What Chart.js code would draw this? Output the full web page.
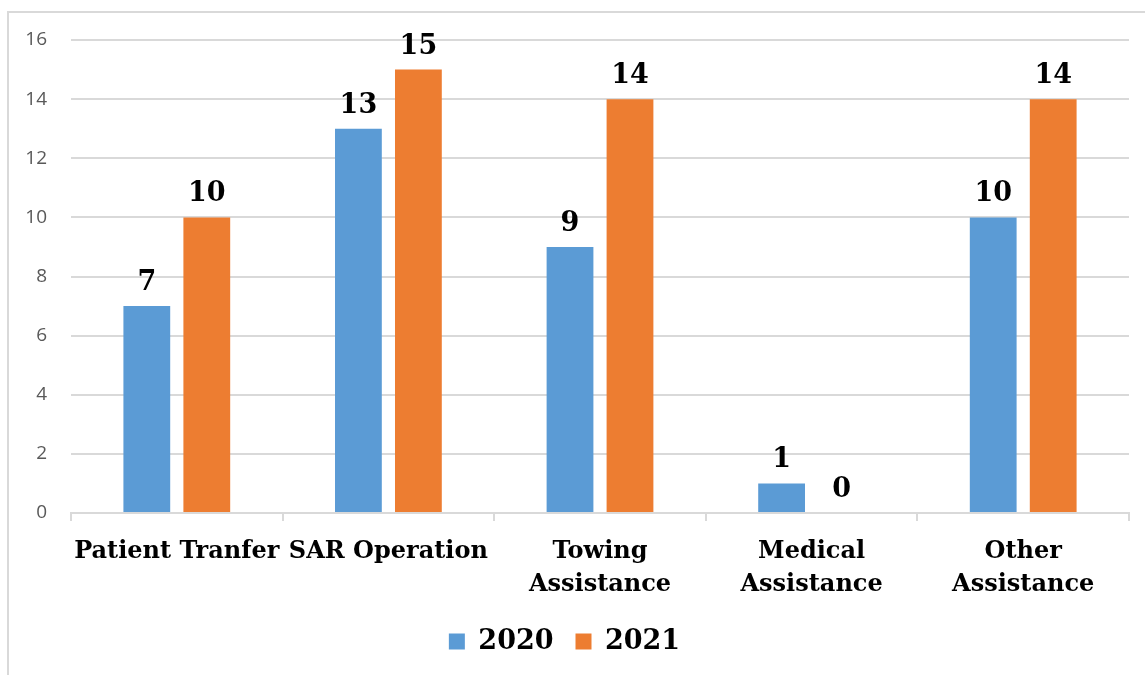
<!DOCTYPE html>
<html>
<head>
<meta charset="utf-8">
<script src="https://cdn.jsdelivr.net/npm/chart.js@4.4.0/dist/chart.umd.min.js"></script>
<style>
    html, body { margin: 0; padding: 0; background: #fff; overflow: hidden; }
    #wrap { position: absolute; left: 0; top: 0; width: 1145px; height: 675px; }
    #frame { position: absolute; left: 7px; top: 11px; width: 1200px; height: 700px; border: 2px solid #d9d9d9; box-sizing: border-box; }
</style>
</head>
<body>
<div id="frame"></div>
<div id="wrap"><canvas id="chartCanvas"></canvas></div>
<script>
const categories = ['Patient Tranfer', 'SAR Operation', ['Towing', 'Assistance'], ['Medical', 'Assistance'], ['Other', 'Assistance']];
const values2020 = [7, 13, 9, 1, 10];
const values2021 = [10, 15, 14, 0, 14];
const yTicks = [0, 2, 4, 6, 8, 10, 12, 14, 16];

const serifFamily = "'DejaVu Serif', serif";

// draws the bold value above each bar
const valueLabels = {
    id: 'valueLabels',
    afterDatasetsDraw(chart) {
        const ctx = chart.ctx;
        ctx.save();
        ctx.font = "bold 27px " + serifFamily;
        ctx.fillStyle = '#000';
        ctx.textAlign = 'center';
        ctx.textBaseline = 'alphabetic';
        chart.data.datasets.forEach((ds, i) => {
            chart.getDatasetMeta(i).data.forEach((bar, j) => {
                ctx.fillText(String(ds.data[j]), bar.x, bar.y - 16);
            });
        });
        ctx.restore();
    }
};

document.addEventListener('DOMContentLoaded', function() {
    const canvas = document.getElementById('chartCanvas');
    new Chart(canvas, {
        type: 'bar',
        data: {
            labels: categories,
            datasets: [{
                label: '2020',
                data: values2020,
                backgroundColor: '#5B9BD5',
                barPercentage: 0.78,
                categoryPercentage: 0.567
            }, {
                label: '2021',
                data: values2021,
                backgroundColor: '#ED7D31',
                barPercentage: 0.78,
                categoryPercentage: 0.567
            }]
        },
        options: {
            responsive: true,
            maintainAspectRatio: false,
            animation: false,
            layout: { padding: { top: 40, right: 16, left: 0, bottom: 10 } },
            plugins: {
                tooltip: { enabled: false },
                legend: {
                    position: 'bottom',
                    labels: {
                        boxWidth: 16,
                        boxHeight: 16,
                        padding: 22,
                        color: '#000',
                        font: { family: serifFamily, weight: 'bold', size: 27 }
                    }
                }
            },
            scales: {
                x: {
                    grid: { offset: true, drawOnChartArea: false, drawTicks: true, tickLength: 8, color: '#d9d9d9', lineWidth: 2 },
                    border: { color: '#d9d9d9', width: 2 },
                    ticks: {
                        color: '#000',
                        padding: 15,
                        maxRotation: 0,
                        autoSkip: false,
                        font: { family: serifFamily, weight: 'bold', size: 24, lineHeight: 1.35 }
                    },
                    afterFit(scale) { scale.height = 93; }
                },
                y: {
                    min: 0,
                    max: 16,
                    afterBuildTicks(scale) { scale.ticks = yTicks.map(v => ({ value: v })); },
                    grid: { color: '#d9d9d9', lineWidth: 2, drawTicks: false },
                    border: { display: false },
                    ticks: {
                        color: '#595959',
                        padding: 24,
                        font: { family: "'Open Sans', sans-serif", size: 19 }
                    },
                    afterFit(scale) { scale.width = 71; }
                }
            }
        },
        plugins: [valueLabels]
    });
});
</script>
</body>
</html>
